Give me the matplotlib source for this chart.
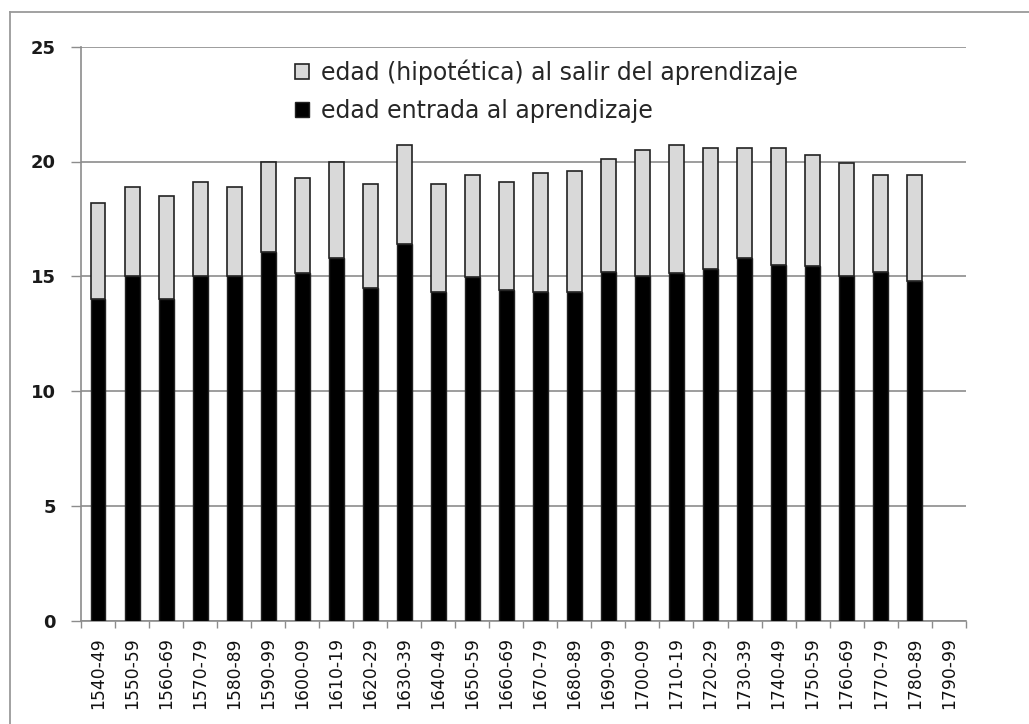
import numpy as np
import matplotlib
matplotlib.use("Agg")
import matplotlib.pyplot as plt
from matplotlib.lines import Line2D
from matplotlib.patches import Patch

# Decades of the apprenticeship records
decades = ["1540-49", "1550-59", "1560-69", "1570-79", "1580-89", "1590-99",
           "1600-09", "1610-19", "1620-29", "1630-39", "1640-49", "1650-59",
           "1660-69", "1670-79", "1680-89", "1690-99", "1700-09", "1710-19",
           "1720-29", "1730-39", "1740-49", "1750-59", "1760-69", "1770-79",
           "1780-89", "1790-99"]

# Mean age at entry into apprenticeship
edad_entrada = [14.0, 15.0, 14.0, 15.0, 15.0, 16.05, 15.15, 15.8, 14.5, 16.4,
                14.3, 14.95, 14.4, 14.3, 14.3, 15.2, 15.0, 15.15, 15.3, 15.8,
                15.5, 15.45, 15.0, 15.2, 14.8, np.nan]

# Hypothetical age on leaving the apprenticeship
edad_salida = [18.2, 18.9, 18.5, 19.1, 18.9, 20.0, 19.3, 20.0, 19.0, 20.7,
               19.0, 19.4, 19.1, 19.5, 19.6, 20.1, 20.5, 20.7, 20.6, 20.6,
               20.6, 20.3, 19.95, 19.4, 19.4, np.nan]

y_ticks = [0, 5, 10, 15, 20, 25]

W, H, DPI = 1029, 724, 100
fig = plt.figure(figsize=(W / DPI, H / DPI), dpi=DPI)
fig.patch.set_facecolor("white")

left, right, top, bottom = 81, 965.7, 46.7, 620.7
ax = fig.add_axes([left / W, 1 - bottom / H, (right - left) / W, (bottom - top) / H])

x = np.arange(len(decades))
entrada = np.array(edad_entrada, dtype=float)
salida = np.array(edad_salida, dtype=float)
extra = salida - entrada

bw = 0.44
ax.bar(x, entrada, width=bw, color="black", edgecolor="#222222", linewidth=1.0, zorder=3)
ax.bar(x, extra, bottom=entrada, width=bw, color="#d9d9d9", edgecolor="#222222",
       linewidth=1.2, zorder=3)

grid_c = "#8c8c8c"
ax.set_ylim(0, 25)
ax.set_xlim(-0.5, len(decades) - 0.5)
ax.set_yticks(y_ticks)
ax.yaxis.grid(True, color=grid_c, linewidth=1.2, zorder=0)
ax.set_axisbelow(True)

for s in ["top", "right"]:
    ax.spines[s].set_visible(False)
for s in ["left", "bottom"]:
    ax.spines[s].set_color(grid_c)
    ax.spines[s].set_linewidth(1.2)

ax.tick_params(axis="y", length=7.2, width=1.0, color=grid_c, pad=11,
               labelsize=13)
for lab in ax.get_yticklabels():
    lab.set_fontweight("bold")
    lab.set_color("#1a1a1a")

ax.set_xticks(x)
ax.set_xticklabels(decades, rotation=90, fontsize=12.3, color="#111111")
ax.tick_params(axis="x", which="major", length=0, pad=12)
ax.set_xticks(np.arange(-0.5, len(decades), 1.0), minor=True)
ax.tick_params(axis="x", which="minor", length=5, width=1.0, color=grid_c)

handles = [Patch(facecolor="#d9d9d9", edgecolor="#222222", linewidth=1.2),
           Patch(facecolor="black", edgecolor="#222222", linewidth=1.0)]
labels = ["edad (hipotética) al salir del aprendizaje", "edad entrada al aprendizaje"]
leg = ax.legend(handles, labels, loc="upper left",
                bbox_to_anchor=((295 - left) / (right - left), 1.0 - (59 - top) / (bottom - top)),
                frameon=False, prop={"family": "DejaVu Sans", "size": 17},
                handlelength=0.59, handleheight=0.59, handletextpad=0.5,
                labelspacing=0.6, borderpad=0, borderaxespad=0)
for t in leg.get_texts():
    t.set_color("#262626")

# Outer chart frame
fig.add_artist(Line2D([10 / W, 10 / W], [0, 1 - 12 / H], transform=fig.transFigure,
                      color="#9a9a9a", linewidth=1.3))
fig.add_artist(Line2D([10 / W, 1], [1 - 12 / H, 1 - 12 / H], transform=fig.transFigure,
                      color="#9a9a9a", linewidth=1.3))

fig.savefig("out.png", dpi=DPI)
